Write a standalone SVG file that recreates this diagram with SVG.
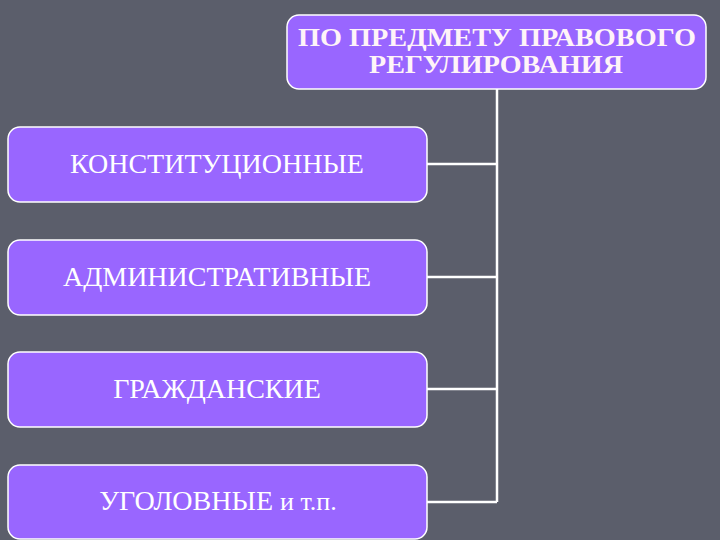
<svg xmlns="http://www.w3.org/2000/svg" width="720" height="540" viewBox="0 0 720 540">
<style>
.box{fill:#9966ff;stroke:#ffffff;stroke-width:1.5}
.t{font-family:"Liberation Serif","Times New Roman",serif;fill:#ffffff;font-size:28px;text-anchor:middle}
.h{font-weight:bold;font-size:25px;fill:#fff4f8}
.c{stroke:#ffffff;stroke-width:2.5;fill:none}
</style>
<rect width="720" height="540" fill="#5b5e6b"/>
<g id="connectors">
<path class="c" d="M497 89 V502 M427 164 H497 M427 277 H497 M427 389 H497 M427 502 H497"/>
</g>
<g id="root">
<rect class="box" x="287" y="15" width="419" height="74" rx="12"/>
<text class="t h" x="497" y="46" textLength="398" lengthAdjust="spacingAndGlyphs">ПО ПРЕДМЕТУ ПРАВОВОГО</text>
<text class="t h" x="496" y="73" textLength="254" lengthAdjust="spacingAndGlyphs">РЕГУЛИРОВАНИЯ</text>
</g>
<g id="n1">
<rect class="box" x="8" y="127" width="419" height="75" rx="12"/>
<text class="t" x="217" y="173">КОНСТИТУЦИОННЫЕ</text>
</g>
<g id="n2">
<rect class="box" x="8" y="240" width="419" height="75" rx="12"/>
<text class="t" x="217" y="286">АДМИНИСТРАТИВНЫЕ</text>
</g>
<g id="n3">
<rect class="box" x="8" y="352" width="419" height="75" rx="12"/>
<text class="t" x="217" y="398">ГРАЖДАНСКИЕ</text>
</g>
<g id="n4">
<rect class="box" x="8" y="465" width="419" height="74" rx="12"/>
<text class="t" x="218" y="510">УГОЛОВНЫЕ <tspan font-size="26">и т.п.</tspan></text>
</g>
</svg>
